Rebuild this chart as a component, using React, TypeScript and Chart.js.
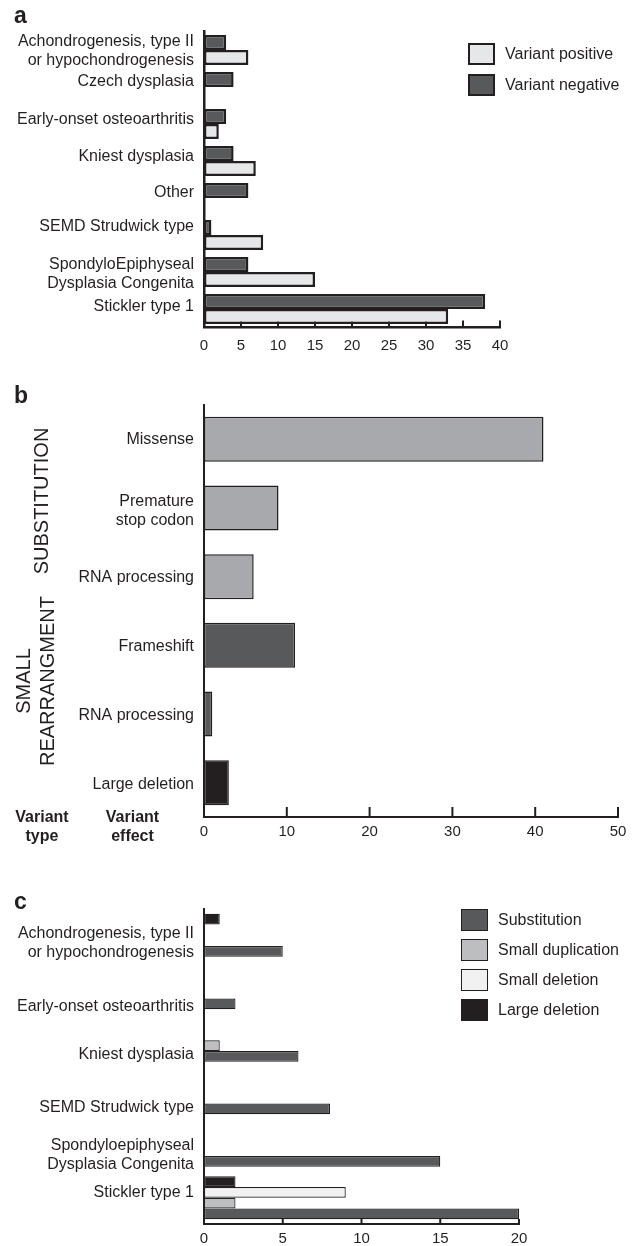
import React, { useEffect, useRef } from 'react';
import { Chart, registerables } from 'chart.js';

Chart.register(...registerables);

// ---------------- DATA ----------------
// Panel a
const diagnosesA = [
  ['Achondrogenesis, type II', 'or hypochondrogenesis'],
  'Czech dysplasia',
  'Early-onset osteoarthritis',
  'Kniest dysplasia',
  'Other',
  'SEMD Strudwick type',
  ['SpondyloEpiphyseal', 'Dysplasia Congenita'],
  'Stickler type 1',
];
const variantNegative = [3, 4, 3, 4, 6, 1, 6, 38];
const variantPositive = [6, 0, 2, 7, 0, 8, 15, 33];
const xMaxA = 40;
const xStepA = 5;

// Panel b
const effectsB = [
  'Missense',
  ['Premature', 'stop codon'],
  'RNA processing',
  'Frameshift',
  'RNA processing',
  'Large deletion',
];
const countsB = [41, 9, 6, 11, 1, 3];
const variantTypeB = ['substitution', 'substitution', 'substitution', 'small', 'small', 'large'];
const xMaxB = 50;
const xStepB = 10;

// Panel c
const diagnosesC = [
  ['Achondrogenesis, type II', 'or hypochondrogenesis'],
  'Early-onset osteoarthritis',
  'Kniest dysplasia',
  'SEMD Strudwick type',
  ['Spondyloepiphyseal', 'Dysplasia Congenita'],
  'Stickler type 1',
];
const largeDeletionC = [1, 0, 0, 0, 0, 2];
const smallDeletionC = [0, 0, 0, 0, 0, 9];
const smallDuplicationC = [0, 0, 1, 0, 0, 2];
const substitutionC = [5, 2, 6, 8, 15, 20];
const xMaxC = 20;
const xStepC = 5;

// ---------------- STYLE ----------------
const INK = '#231f20';
const FONT = "'Liberation Sans', Arial, Helvetica, sans-serif";
const C_DARK = '#58595b';
const C_LIGHT_A = '#e6e7e8';
const C_MID_B = '#a7a9ac';
const C_DUP = '#bcbec0';
const C_DEL = '#f1f1f2';
const TYPE_COLOR: Record<string, string> = { substitution: C_MID_B, small: C_DARK, large: INK };

// label vertical nudges (px) to match the original's hand placed labels
const LABEL_SHIFT_A = [1, -5, -4, -4, -5, -8, 2, -2];
const LABEL_SHIFT_B = [0, 3, 1, 1, 2, 2];
const LABEL_SHIFT_C = [8, 19, 14, 15, 10, -5];

const sideLabelsPlugin = {
  id: 'sideLabels',
  afterDraw(chart: any, _args: any, opts: any) {
    const { ctx, chartArea } = chart;
    const y = chart.scales.y;
    const labels = chart.data.labels || [];
    ctx.save();
    ctx.font = `${opts.size}px ${FONT}`;
    ctx.fillStyle = INK;
    ctx.textAlign = 'right';
    ctx.textBaseline = 'middle';
    labels.forEach((lab: any, i: number) => {
      const lines = Array.isArray(lab) ? lab : [lab];
      const cy = y.getPixelForValue(i) + ((opts.shift && opts.shift[i]) || 0);
      lines.forEach((ln: string, j: number) => {
        ctx.fillText(ln, chartArea.left - opts.gap, cy + (j - (lines.length - 1) / 2) * opts.lineHeight);
      });
    });
    ctx.restore();
  },
};

const innerTicksPlugin = {
  id: 'innerTicks',
  beforeDatasetsDraw(chart: any, _args: any, opts: any) {
    const x = chart.scales.x;
    const { ctx, chartArea } = chart;
    ctx.save();
    ctx.strokeStyle = INK;
    ctx.lineWidth = opts.width;
    x.ticks.forEach((t: any) => {
      if (t.value === x.min) return;
      const px = x.getPixelForValue(t.value);
      ctx.beginPath();
      ctx.moveTo(px, chartArea.bottom);
      ctx.lineTo(px, chartArea.bottom - opts.length);
      ctx.stroke();
    });
    ctx.restore();
  },
};

function makeOptions(p: {
  padTop: number; padBottom: number; padRight: number; xMax: number; xStep: number;
  xHeight: number; tickPad: number; axisW: number; tickLen: number; shift: number[];
}) {
  return {
    indexAxis: 'y',
    responsive: false,
    animation: false,
    events: [],
    layout: { padding: { left: 204, right: p.padRight, top: p.padTop, bottom: p.padBottom } },
    plugins: {
      legend: { display: false },
      tooltip: { enabled: false },
      sideLabels: { size: 16, gap: 10, lineHeight: 18.5, shift: p.shift },
      innerTicks: { width: 2, length: p.tickLen },
    },
    scales: {
      x: {
        type: 'linear',
        min: 0,
        max: p.xMax,
        ticks: { stepSize: p.xStep, color: INK, font: { family: FONT, size: 15 }, padding: p.tickPad },
        grid: { display: false, drawTicks: false },
        border: { display: true, color: INK, width: p.axisW },
        afterFit: (s: any) => { s.height = p.xHeight; },
      },
      y: {
        type: 'category',
        ticks: { display: false },
        grid: { display: false, drawTicks: false },
        border: { display: true, color: INK, width: p.axisW },
        afterFit: (s: any) => { s.width = 0; },
      },
    },
  };
}

function ChartCanvas({ top, height, build }: { top: number; height: number; build: () => any }) {
  const ref = useRef<HTMLCanvasElement | null>(null);
  useEffect(() => {
    const chart = new Chart(ref.current as HTMLCanvasElement, build());
    return () => chart.destroy();
  }, []);
  return (
    <canvas
      ref={ref}
      width={638}
      height={height}
      style={{ position: 'absolute', left: 0, top, width: 638, height }}
    />
  );
}

const buildA = () => ({
  type: 'bar',
  data: {
    labels: diagnosesA,
    datasets: [
      {
        label: 'Variant negative',
        data: variantNegative,
        backgroundColor: C_DARK,
        borderColor: INK,
        borderWidth: 2.5,
        borderSkipped: false,
        categoryPercentage: 0.81,
        barPercentage: 1,
      },
      {
        label: 'Variant positive',
        data: variantPositive,
        backgroundColor: C_LIGHT_A,
        borderColor: INK,
        borderWidth: 2.5,
        borderSkipped: false,
        categoryPercentage: 0.81,
        barPercentage: 1,
      },
    ],
  },
  options: makeOptions({
    padTop: 31.5, padBottom: 7.5, padRight: 138, xMax: xMaxA, xStep: xStepA,
    xHeight: 30, tickPad: 9, axisW: 2.5, tickLen: 7, shift: LABEL_SHIFT_A,
  }),
  plugins: [sideLabelsPlugin, innerTicksPlugin],
});

const buildB = () => ({
  type: 'bar',
  data: {
    labels: effectsB,
    datasets: [
      {
        label: 'Variants',
        data: countsB,
        backgroundColor: variantTypeB.map((t) => TYPE_COLOR[t]),
        borderColor: INK,
        borderWidth: 1.5,
        borderSkipped: false,
        categoryPercentage: 0.655,
        barPercentage: 1,
      },
    ],
  },
  options: makeOptions({
    padTop: 40, padBottom: 3, padRight: 20, xMax: xMaxB, xStep: xStepB,
    xHeight: 25, tickPad: 6, axisW: 2, tickLen: 10, shift: LABEL_SHIFT_B,
  }),
  plugins: [sideLabelsPlugin, innerTicksPlugin],
});

const buildC = () => {
  const ds = (label: string, data: number[], color: string) => ({
    label,
    data,
    backgroundColor: color,
    borderColor: INK,
    borderWidth: 1.2,
    borderSkipped: false,
    categoryPercentage: 0.816,
    barPercentage: 1,
  });
  return {
    type: 'bar',
    data: {
      labels: diagnosesC,
      datasets: [
        ds('Large deletion', largeDeletionC, INK),
        ds('Small deletion', smallDeletionC, C_DEL),
        ds('Small duplication', smallDuplicationC, C_DUP),
        ds('Substitution', substitutionC, C_DARK),
      ],
    },
    options: makeOptions({
      padTop: 64, padBottom: 2, padRight: 119, xMax: xMaxC, xStep: xStepC,
      xHeight: 20, tickPad: 6, axisW: 2, tickLen: 5, shift: LABEL_SHIFT_C,
    }),
    plugins: [sideLabelsPlugin, innerTicksPlugin],
  };
};

function LegendRow({ x, y, color, border, text }: { x: number; y: number; color: string; border: number; text: string }) {
  return (
    <>
      <div
        style={{
          position: 'absolute', left: x, top: y, width: 27, height: 22, boxSizing: 'border-box',
          background: color, border: `${border}px solid ${INK}`,
        }}
      />
      <div
        style={{
          position: 'absolute', left: x + 37, top: y, height: 22, lineHeight: '22px',
          fontSize: 16, color: INK, whiteSpace: 'nowrap',
        }}
      >
        {text}
      </div>
    </>
  );
}

const panelLetter = (ch: string, top: number) => (
  <div style={{ position: 'absolute', left: 14, top, fontSize: 23, lineHeight: '23px', fontWeight: 'bold', color: INK }}>{ch}</div>
);

export default function App() {
  return (
    <div style={{ position: 'absolute', left: 0, top: 0, width: 638, height: 1246, background: '#fff', fontFamily: FONT, color: INK, overflow: 'hidden' }}>
      <ChartCanvas top={0} height={365} build={buildA} />
      <ChartCanvas top={365} height={480} build={buildB} />
      <ChartCanvas top={845} height={401} build={buildC} />

      {panelLetter('a', 4)}
      {panelLetter('b', 384)}
      {panelLetter('c', 890)}

      {/* legend a */}
      <LegendRow x={468} y={43} color={C_LIGHT_A} border={2.5} text="Variant positive" />
      <LegendRow x={468} y={74} color={C_DARK} border={2.5} text="Variant negative" />

      {/* legend c */}
      <LegendRow x={461} y={909} color={C_DARK} border={1.2} text="Substitution" />
      <LegendRow x={461} y={939} color={C_DUP} border={1.2} text="Small duplication" />
      <LegendRow x={461} y={969} color={C_DEL} border={1.2} text="Small deletion" />
      <LegendRow x={461} y={999} color={INK} border={1.2} text="Large deletion" />

      {/* panel b variant type labels */}
      <div style={{ position: 'absolute', left: 40.5, top: 500.5, transform: 'translate(-50%, -50%) rotate(-90deg)', fontSize: 20, lineHeight: '24px', whiteSpace: 'nowrap' }}>
        SUBSTITUTION
      </div>
      <div style={{ position: 'absolute', left: 34.5, top: 681, transform: 'translate(-50%, -50%) rotate(-90deg)', fontSize: 20, lineHeight: '24px', whiteSpace: 'nowrap', textAlign: 'center' }}>
        SMALL<br />REARRANGMENT
      </div>
      <div style={{ position: 'absolute', left: 42, top: 807, transform: 'translateX(-50%)', fontSize: 16, lineHeight: '19px', fontWeight: 'bold', textAlign: 'center', whiteSpace: 'nowrap' }}>
        Variant<br />type
      </div>
      <div style={{ position: 'absolute', left: 132.5, top: 807, transform: 'translateX(-50%)', fontSize: 16, lineHeight: '19px', fontWeight: 'bold', textAlign: 'center', whiteSpace: 'nowrap' }}>
        Variant<br />effect
      </div>
    </div>
  );
}
